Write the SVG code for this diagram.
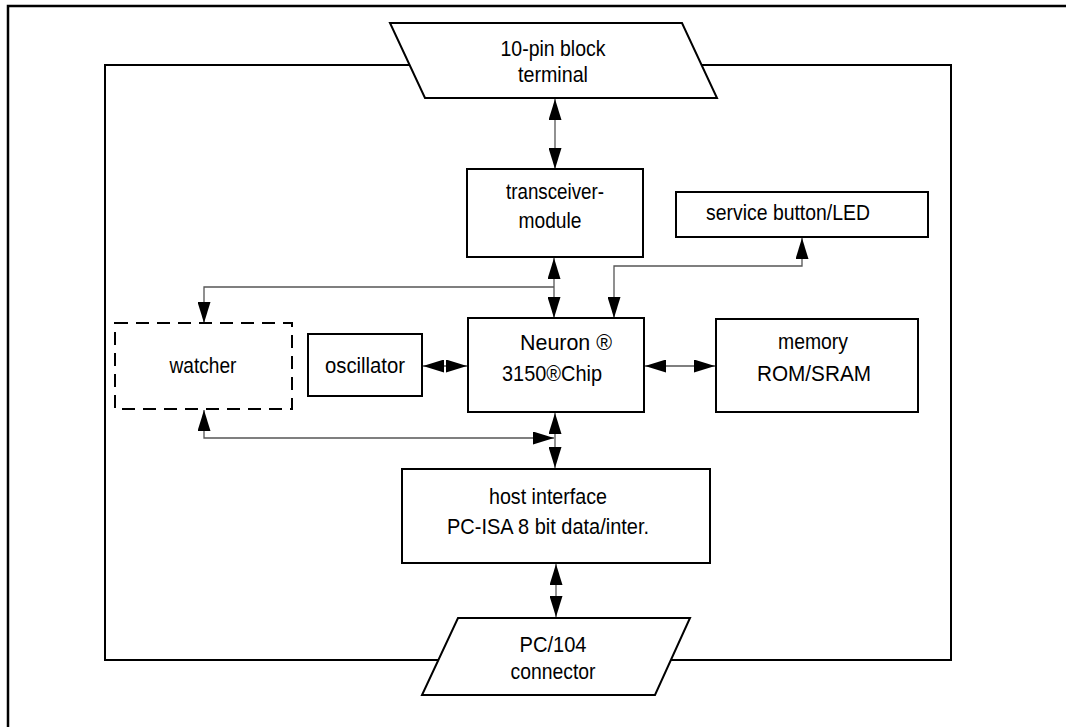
<svg xmlns="http://www.w3.org/2000/svg" width="1066" height="727" viewBox="0 0 1066 727">
<style>
.box{fill:#fff;stroke:#000;stroke-width:2}
.dash{fill:#fff;stroke:#000;stroke-width:2;stroke-dasharray:13 8}
.frame{fill:none;stroke:#000;stroke-width:2}
.outer{fill:none;stroke:#000;stroke-width:2.5}
.t{font-family:"Liberation Sans",Arial,sans-serif;font-size:22px;fill:#000;text-anchor:middle}
.c{fill:none;stroke:#555;stroke-width:1.3}
</style>
<defs>
<marker id="ah" viewBox="0 0 21 13" refX="21" refY="6.5" markerWidth="21" markerHeight="13" markerUnits="userSpaceOnUse" orient="auto-start-reverse">
<path d="M0,0 L21,6.5 L0,13 Z" fill="#000"/>
</marker>
</defs>
<rect width="1066" height="727" fill="#fff"/>
<path class="outer" d="M1066,6 L8,6 L8,727"/>
<path class="frame" d="M409.6,65 L105,65 L105,660 L438.4,660 M671,660 L951,660 L951,65 L701.6,65"/>
<g id="connectors">
<path class="c" d="M555,99 L555,169" marker-start="url(#ah)" marker-end="url(#ah)"/>
<path class="c" d="M554,258 L554,318" marker-start="url(#ah)" marker-end="url(#ah)"/>
<path class="c" d="M554,287 L204,287 L204,323" marker-end="url(#ah)"/>
<path class="c" d="M802,238 L802,266 L614,266 L614,318" marker-start="url(#ah)" marker-end="url(#ah)"/>
<path class="c" d="M423,366 L467,366" marker-start="url(#ah)" marker-end="url(#ah)"/>
<path class="c" d="M645,366 L715,366" marker-start="url(#ah)" marker-end="url(#ah)"/>
<path class="c" d="M555,413 L555,468" marker-start="url(#ah)" marker-end="url(#ah)"/>
<path class="c" d="M554,438 L204,438 L204,410" marker-start="url(#ah)" marker-end="url(#ah)"/>
<path class="c" d="M556,564 L556,617" marker-start="url(#ah)" marker-end="url(#ah)"/>
</g>
<g id="terminal">
<polygon class="box" points="390,23 682,23 717,98 425,98"/>
<text class="t" x="553" y="56" textLength="105" lengthAdjust="spacingAndGlyphs">10-pin block</text>
<text class="t" x="553" y="82" textLength="70" lengthAdjust="spacingAndGlyphs">terminal</text>
</g>
<g id="transceiver">
<rect class="box" x="467" y="169" width="176" height="88"/>
<text class="t" x="555" y="199" textLength="98" lengthAdjust="spacingAndGlyphs">transceiver-</text>
<text class="t" x="550" y="228" textLength="63" lengthAdjust="spacingAndGlyphs">module</text>
</g>
<g id="service">
<rect class="box" x="676" y="192" width="252" height="45"/>
<text class="t" x="788" y="220" textLength="164" lengthAdjust="spacingAndGlyphs">service button/LED</text>
</g>
<g id="watcher">
<rect class="dash" x="115" y="323" width="177" height="86"/>
<text class="t" x="203" y="373" textLength="67" lengthAdjust="spacingAndGlyphs">watcher</text>
</g>
<g id="oscillator">
<rect class="box" x="308" y="334" width="114" height="62"/>
<text class="t" x="365" y="373" textLength="80" lengthAdjust="spacingAndGlyphs">oscillator</text>
</g>
<g id="neuron">
<rect class="box" x="468" y="318" width="176" height="94"/>
<text class="t" x="566" y="350" textLength="92" lengthAdjust="spacingAndGlyphs">Neuron ®</text>
<text class="t" x="552" y="381" textLength="100" lengthAdjust="spacingAndGlyphs">3150®Chip</text>
</g>
<g id="memory">
<rect class="box" x="716" y="319" width="202" height="93"/>
<text class="t" x="813" y="349" textLength="70" lengthAdjust="spacingAndGlyphs">memory</text>
<text class="t" x="814" y="381" textLength="114" lengthAdjust="spacingAndGlyphs">ROM/SRAM</text>
</g>
<g id="host">
<rect class="box" x="402" y="469" width="308" height="94"/>
<text class="t" x="548" y="504" textLength="118" lengthAdjust="spacingAndGlyphs">host interface</text>
<text class="t" x="548" y="534" textLength="202" lengthAdjust="spacingAndGlyphs">PC-ISA 8 bit data/inter.</text>
</g>
<g id="pc104">
<polygon class="box" points="458,618 690,618 655,695 422,695"/>
<text class="t" x="553" y="652" textLength="67" lengthAdjust="spacingAndGlyphs">PC/104</text>
<text class="t" x="553" y="679" textLength="85" lengthAdjust="spacingAndGlyphs">connector</text>
</g>
</svg>
